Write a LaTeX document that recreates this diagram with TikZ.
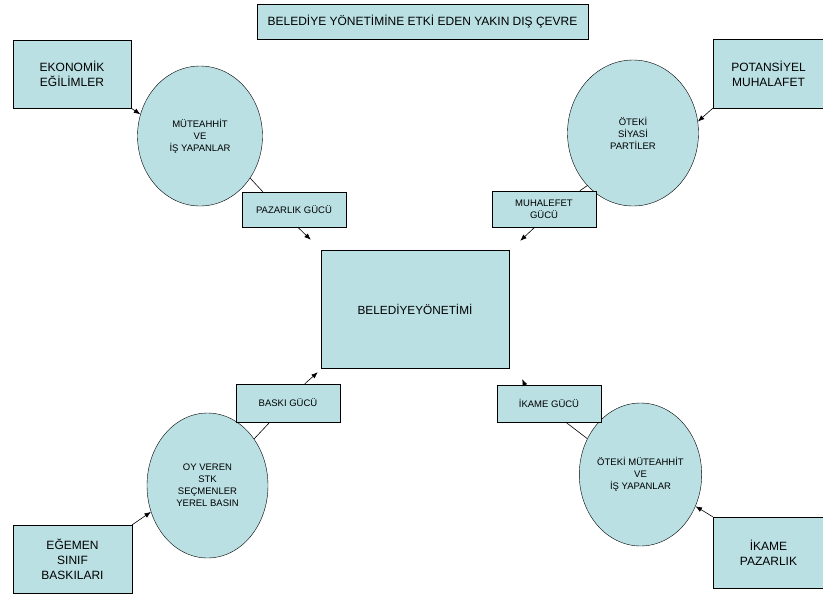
\documentclass[tikz,border=0pt]{standalone}
\usepackage{fontspec}
\setmainfont{Liberation Sans}
\usetikzlibrary{arrows.meta,shapes.geometric}
\definecolor{boxfill}{RGB}{186,224,227}
\begin{document}
\begin{tikzpicture}[x=1pt,y=-1pt,
  kutu/.style={draw,fill=boxfill,inner sep=0pt,align=center},
  buyuk/.style={kutu,font=\fontsize{12}{15}\selectfont},
  guc/.style={kutu,minimum width=104pt,font=\fontsize{9.5}{12}\selectfont},
  oval/.style={draw,fill=boxfill,ellipse,inner sep=0pt,align=center,font=\fontsize{9.5}{12}\selectfont},
  ok/.style={-{Latex[length=6.5pt,width=5pt]},line width=0.6pt},
  cizgi/.style={line width=0.6pt}]
\useasboundingbox (0,0) rectangle (823,595);
\node [kutu,minimum width=331pt,minimum height=35pt,font=\fontsize{12}{15}\selectfont]
  (baslik) at (422.5,21.5) {BELEDİYE YÖNETİMİNE ETKİ EDEN YAKIN DIŞ ÇEVRE};
\node [kutu,minimum width=188pt,minimum height=118pt,font=\fontsize{11.8}{14}\selectfont]
  (bel) at (415,309) {BELEDİYEYÖNETİMİ};
% dis kutular
\node [buyuk,minimum width=118pt,minimum height=68pt] (eko) at (72,74) {EKONOMİK\\EĞİLİMLER};
\node [buyuk,minimum width=111pt,minimum height=69pt] (pot) at (768.5,73.5) {POTANSİYEL\\MUHALAFET};
\node [buyuk,minimum width=119pt,minimum height=68pt] (egemen) at (72.5,559) {EĞEMEN\\SINIF\\BASKILARI};
\node [buyuk,minimum width=111pt,minimum height=71pt] (ikpaz) at (768.5,552.5) {İKAME\\PAZARLIK};
% elipsler
\node [oval,minimum width=125pt,minimum height=140pt] (mut) at (200,136) {MÜTEAHHİT\\VE\\İŞ YAPANLAR};
\node [oval,minimum width=131pt,minimum height=146pt] (oteki) at (633,133) {ÖTEKİ\\SİYASİ\\PARTİLER};
\node [oval,minimum width=121pt,minimum height=145pt] (oy) at (207.5,485.5) {OY VEREN\\STK\\SEÇMENLER\\YEREL BASIN};
\node [oval,minimum width=119pt,minimum height=143pt] (otmut) at (640.5,474.5) {ÖTEKİ MÜTEAHHİT\\VE\\İŞ YAPANLAR};
% guc kutulari
\node [guc,minimum height=35pt] (pazarlik) at (294,209.5) {PAZARLIK GÜCÜ};
\node [guc,minimum height=36pt] (muhguc) at (544,209) {MUHALEFET\\GÜCÜ};
\node [guc,minimum height=38pt] (baski) at (288,403) {BASKI GÜCÜ};
\node [guc,minimum height=37pt] (ikguc) at (549,403.5) {İKAME GÜCÜ};
\draw [ok] (eko.south east) -- (mut.160);
\draw [ok] (pot.south west) -- (oteki.10);
\draw [ok] (egemen.north east) -- (oy.205);
\draw [ok] (ikpaz.north west) -- (otmut.-30);
\draw [cizgi] (mut.-40) -- ([xshift=21pt]pazarlik.north west);
\draw [cizgi] (oteki.229) -- ([xshift=88pt]muhguc.north west);
\draw [cizgi] (oy.45) -- ([xshift=34pt]baski.south west);
\draw [cizgi] (otmut.146) -- ([xshift=69pt]ikguc.south west);
\draw [ok] ([xshift=56pt]pazarlik.south west) -- ([xshift=-10pt,yshift=10pt]bel.north west);
\draw [ok] ([xshift=43pt]muhguc.south west) -- ([xshift=11pt,yshift=9pt]bel.north east);
\draw [ok] ([xshift=69pt]baski.north west) -- ([xshift=-3pt,yshift=-4pt]bel.south west);
\draw [ok] ([xshift=28pt]ikguc.north west) -- ([xshift=13pt,yshift=-11pt]bel.south east);
\end{tikzpicture}
\end{document}
